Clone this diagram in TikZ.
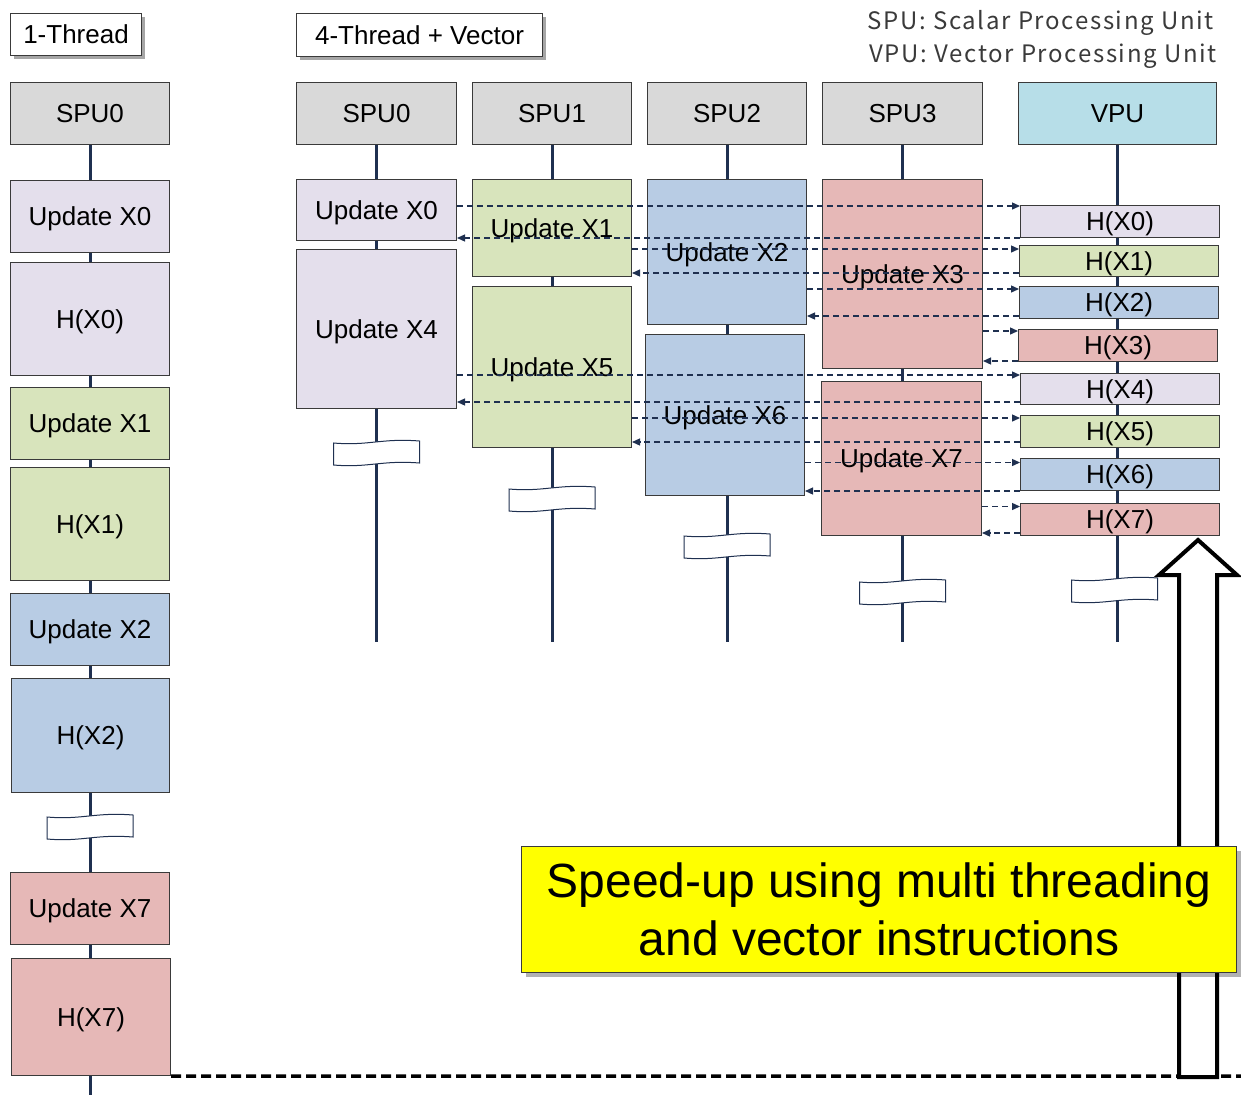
\documentclass[tikz,border=0pt]{standalone}
\usepackage{fontspec}
\setmainfont{Liberation Sans}
\newfontfamily\legfont[LetterSpace=7]{Noto Sans CJK JP}
\usetikzlibrary{arrows.meta,shadows,calc}
\definecolor{hdr}{HTML}{D9D9D9}
\definecolor{vpuc}{HTML}{B7DEE8}
\definecolor{lav}{HTML}{E4DFEC}
\definecolor{grn}{HTML}{D8E4BC}
\definecolor{blu}{HTML}{B8CCE4}
\definecolor{pnk}{HTML}{E6B8B7}
\definecolor{boxc}{HTML}{3A3A3A}
\definecolor{navy}{HTML}{1F3050}
\definecolor{legc}{HTML}{3A3A3A}
\definecolor{ylw}{HTML}{FFFF00}
\newcommand\fs{\fontsize{26}{30}\selectfont}
\newcommand\bx[7]{\node[blk,fill=#2,minimum width={#5-#3-1.3},minimum height={#6-#4-1.3}] (#1) at ({(#3+#5)/2},{(#4+#6)/2}) {#7};}
\newcommand\brk[3]{\draw[brkst] ({#2-43},{#3-10}) .. controls ({#2-8},{#3-7}) and ({#2+5},{#3-15}) .. ({#2+43},{#3-12}) -- ({#2+43},{#3+10}) .. controls ({#2+5},{#3+7}) and ({#2-8},{#3+15}) .. ({#2-43},{#3+12}) -- cycle;}
\begin{document}
\begin{tikzpicture}[x=1pt,y=-1pt,
  blk/.style={draw=boxc,line width=1.3pt,inner sep=0pt,font=\fs,text height=18.7pt,text depth=0pt},
  lbl/.style={draw=boxc,line width=1.2pt,fill=white,inner sep=0pt,font=\fs,text height=18.7pt,text depth=0pt,
    drop shadow={shadow xshift=3pt,shadow yshift=-3pt,fill=black,opacity=0.35}},
  life/.style={draw=navy,line width=3pt},
  brkst/.style={draw=navy,line width=1pt,fill=white},
  dar/.style={draw=navy,line width=1.3pt,dash pattern=on 6pt off 4pt,
    -{Triangle[length=8pt,width=7pt]}},
  fin/.style={draw=black,line width=3.5pt,dash pattern=on 10pt off 5pt},
  bigarrow/.style={draw=black,line width=4pt,fill=white,line join=miter},
  leg/.style={anchor=east,inner sep=0pt,text=legc,font=\legfont\fontsize{24}{28}\selectfont},
]
\useasboundingbox (0,0) rectangle (1241,1095);

% ---------- title labels
\node[lbl,minimum width=131,minimum height=42] (tl1) at (76,34.5) {1-Thread};
\node[lbl,minimum width=246,minimum height=43] (tl4) at (419.5,35) {4-Thread + Vector};

% ---------- legend
\node[leg] (leg1) at (1214,23) {SPU: Scalar Processing Unit};
\node[leg] (leg2) at (1217,56) {VPU: Vector Processing Unit};

% ---------- headers
\bx{ls0}{hdr}{10}{82}{170}{145}{SPU0}
\bx{s0}{hdr}{296}{82}{457}{145}{SPU0}
\bx{s1}{hdr}{472}{82}{632}{145}{SPU1}
\bx{s2}{hdr}{647}{82}{807}{145}{SPU2}
\bx{s3}{hdr}{822}{82}{983}{145}{SPU3}
\bx{vp}{vpuc}{1018}{82}{1217}{145}{VPU}

% ---------- lifelines
\coordinate (lend) at (90,1095);
\coordinate (e0) at (376.5,642);
\coordinate (e1) at (552,642);
\coordinate (e2) at (727,642);
\coordinate (e3) at (902.5,642);
\coordinate (ev) at (1117.5,642);
\draw[life] (ls0.south) -- (lend);
\draw[life] (s0.south) -- (e0);
\draw[life] (s1.south) -- (e1);
\draw[life] (s2.south) -- (e2);
\draw[life] (s3.south) -- (e3);
\draw[life] (vp.south) -- (ev);

% ---------- 1-thread column
\bx{lu0}{lav}{10}{180}{170}{253}{Update X0}
\bx{lh0}{lav}{10}{262}{170}{376}{H(X0)}
\bx{lu1}{grn}{10}{387}{170}{460}{Update X1}
\bx{lh1}{grn}{10}{467}{170}{581}{H(X1)}
\bx{lu2}{blu}{10}{593}{170}{666}{Update X2}
\bx{lh2}{blu}{11}{678}{170}{793}{H(X2)}
\bx{lu7}{pnk}{10}{872}{170}{945}{Update X7}
\bx{lh7}{pnk}{11}{958}{171}{1076}{H(X7)}
\brk{b0}{90}{827}

% ---------- 4-thread columns
\bx{u0}{lav}{296}{179}{457}{241}{Update X0}
\bx{u4}{lav}{296}{249}{457}{409}{Update X4}
\bx{u1}{grn}{472}{179}{632}{277}{Update X1}
\bx{u5}{grn}{472}{286}{632}{448}{Update X5}
\bx{u2}{blu}{647}{179}{807}{325}{Update X2}
\bx{u6}{blu}{645}{334}{805}{496}{Update X6}
\bx{u3}{pnk}{822}{179}{983}{369}{Update X3}
\bx{u7}{pnk}{821}{381}{982}{536}{Update X7}

\bx{h0}{lav}{1020}{205}{1220}{238}{H(X0)}
\bx{h1}{grn}{1019}{245}{1219}{277}{H(X1)}
\bx{h2}{blu}{1019}{286}{1219}{319}{H(X2)}
\bx{h3}{pnk}{1018}{329}{1218}{362}{H(X3)}
\bx{h4}{lav}{1020}{373}{1220}{405}{H(X4)}
\bx{h5}{grn}{1020}{415}{1220}{448}{H(X5)}
\bx{h6}{blu}{1020}{458}{1220}{491}{H(X6)}
\bx{h7}{pnk}{1020}{503}{1220}{536}{H(X7)}

\brk{b1}{376.5}{453}
\brk{b2}{552}{499}
\brk{b3}{727}{546}
\brk{b4}{902.5}{592}
\brk{b5}{1114.5}{590}

% ---------- dashed data-flow arrows
\foreach \u/\h/\fo/\ro in {u0/h0/1/0,u1/h1/4/4,u2/h2/3/3,u3/h3/2/1,u4/h4/2/3,u5/h5/3/6,u6/h6/4.5/0,u7/h7/3.5/3}{
  \coordinate (f\h) at ([yshift=-\fo pt]\h.north west);
  \coordinate (r\h) at ([yshift=\ro pt]\h.south west);
  \draw[dar] (\u.east |- f\h) -- (f\h);
  \draw[dar] (r\h) -- (\u.east |- r\h);
}

% ---------- final dashed line and big arrow
\coordinate (fend) at (1241,1076);
\draw[fin] (lh7.south east) -- (fend);
\draw[bigarrow] (1179,1077) -- (1179,575) -- (1159,575) -- (1198,540) -- (1237,575) -- (1217,575) -- (1217,1077) -- cycle;

% ---------- speed-up note
\node[draw=boxc,line width=1.2pt,fill=ylw,inner sep=0pt,minimum width=715,minimum height=126,
  align=center,font=\fontsize{48}{58}\selectfont,
  drop shadow={shadow xshift=4pt,shadow yshift=-4pt,fill=black,opacity=0.3}] (spd) at (879,909.5)
  {Speed-up using multi threading\\and vector instructions};
\end{tikzpicture}
\end{document}
